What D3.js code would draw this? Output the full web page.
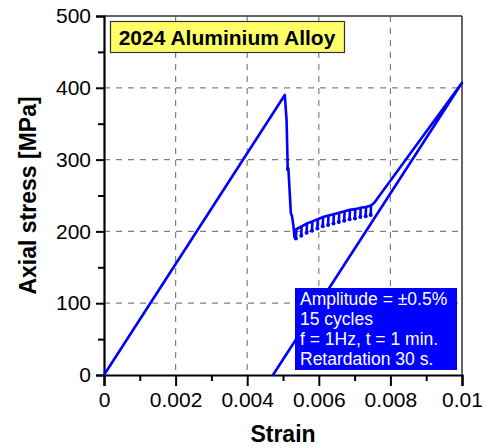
<!DOCTYPE html>
<html>
<head>
<meta charset="utf-8">
<script src="https://cdn.jsdelivr.net/npm/d3@7"></script>
<style>
  body { margin: 0; background: #fff; }
  svg { display: block; font-family: "Liberation Sans", Arial, sans-serif; }
</style>
</head>
<body>
<svg width="488" height="448"></svg>
<script>
// loading path before the cycles (strain, stress MPa)
const loadStrain = [0, 0.00505, 0.00510, 0.00513, 0.00512, 0.00515, 0.00522, 0.00525, 0.00529, 0.00532];
const loadStress = [0, 390, 355, 292, 286, 288, 225, 222, 208, 192];

// 15 relaxation cycles: peak and hook bottom
const cycleStrain = [0.00537, 0.00552, 0.00567, 0.00582, 0.00597, 0.00612, 0.00627, 0.00642,
                     0.00657, 0.00672, 0.00687, 0.00702, 0.00717, 0.00732, 0.00746];
const cyclePeak   = [203, 207, 211, 214, 217, 220, 222, 224, 226, 228, 230, 231, 233, 234, 236];
const cycleValley = [190, 194, 198, 201, 204, 207, 209, 211, 213, 215, 217, 218, 220, 221, 223];

// reloading and unloading
const endStrain = [0.00755, 0.0100, 0.00472];
const endStress = [240, 407, 0];

const xTicks = [0, 0.002, 0.004, 0.006, 0.008, 0.01];
const yTicks = [0, 100, 200, 300, 400, 500];

const infoLines = ["Amplitude = \u00b10.5%", "15 cycles", "f = 1Hz, t = 1 min.", "Retardation 30 s."];

const svg = d3.select("svg");
const pL = 104, pR = 462, pT = 16, pB = 375;

const x = d3.scaleLinear().domain([0, 0.01]).range([pL, pR]);
const y = d3.scaleLinear().domain([0, 500]).range([pB, pT]);

// grid
svg.append("g").selectAll("line")
  .data(xTicks.slice(1, -1))
  .join("line")
  .attr("x1", d => x(d)).attr("x2", d => x(d))
  .attr("y1", pT).attr("y2", pB)
  .attr("stroke", "#808080").attr("stroke-width", 1.2).attr("stroke-dasharray", "6,6");
svg.append("g").selectAll("line")
  .data(yTicks.slice(1, -1))
  .join("line")
  .attr("y1", d => y(d)).attr("y2", d => y(d))
  .attr("x1", pL).attr("x2", pR)
  .attr("stroke", "#808080").attr("stroke-width", 1.2).attr("stroke-dasharray", "6,6");

// frame
svg.append("line").attr("x1", pL).attr("x2", pR).attr("y1", pT).attr("y2", pT)
  .attr("stroke", "#333").attr("stroke-width", 1.5);
svg.append("line").attr("x1", pR).attr("x2", pR).attr("y1", pT).attr("y2", pB)
  .attr("stroke", "#333").attr("stroke-width", 1.5);

// axes
svg.append("g").attr("transform", `translate(0,${pB})`)
  .call(d3.axisBottom(x).tickValues(xTicks).tickFormat(d => d === 0 ? "0" : String(+d.toFixed(3)))
    .tickSize(11).tickPadding(6));
svg.append("g").attr("transform", `translate(${pL},0)`)
  .call(d3.axisLeft(y).tickValues(yTicks).tickSize(8).tickPadding(5));

svg.append("g").attr("transform", `translate(0,${pB})`)
  .call(d3.axisBottom(x).tickValues(d3.range(0.001, 0.01, 0.002)).tickSize(6).tickFormat(""))
  .call(g => g.select(".domain").remove());
svg.append("g").attr("transform", `translate(${pL},0)`)
  .call(d3.axisLeft(y).tickValues(d3.range(50, 500, 100)).tickSize(6).tickFormat(""))
  .call(g => g.select(".domain").remove());

svg.selectAll(".domain").attr("stroke", "#000").attr("stroke-width", 2.2);
svg.selectAll(".tick line").attr("stroke", "#000").attr("stroke-width", 2);
svg.selectAll(".tick text").attr("font-size", 21).attr("fill", "#000")
  .attr("font-family", "Liberation Sans, Arial, sans-serif");

// axis titles
svg.append("text").attr("x", (pL + pR) / 2).attr("y", 442)
  .attr("text-anchor", "middle").attr("font-size", 23).attr("font-weight", "bold")
  .text("Strain");
svg.append("text").attr("transform", `translate(36,${(pT + pB) / 2}) rotate(-90)`)
  .attr("text-anchor", "middle").attr("font-size", 23).attr("font-weight", "bold")
  .text("Axial stress [MPa]");

// curve
const pts = [];
loadStrain.forEach((s, i) => pts.push([s, loadStress[i]]));
cycleStrain.forEach((s, i) => {
  pts.push([s, cyclePeak[i]]);
  pts.push([s - 0.00001, cycleValley[i]]);
  pts.push([s, cyclePeak[i]]);
});
endStrain.forEach((s, i) => pts.push([s, endStress[i]]));

svg.append("path")
  .datum(pts)
  .attr("d", d3.line().x(d => x(d[0])).y(d => y(d[1])))
  .attr("fill", "none").attr("stroke", "#0000ff").attr("stroke-width", 2.6)
  .attr("stroke-linejoin", "round").attr("stroke-linecap", "round");

// hook ends
svg.append("g").selectAll("circle")
  .data(cycleStrain)
  .join("circle")
  .attr("cx", d => x(d - 0.00001)).attr("cy", (d, i) => y(cycleValley[i]))
  .attr("r", 2).attr("fill", "#0000ff");

// title box
const tb = svg.append("g");
tb.append("rect").attr("x", 110.5).attr("y", 21.5).attr("width", 234).attr("height", 31)
  .attr("fill", "#ffff66").attr("stroke", "#333").attr("stroke-width", 1.2);
tb.append("text").attr("x", 227).attr("y", 45).attr("text-anchor", "middle")
  .attr("font-size", 21).attr("font-weight", "bold").text("2024 Aluminium Alloy");

// info box
const ib = svg.append("g");
ib.append("rect").attr("x", 295).attr("y", 288).attr("width", 162).attr("height", 82)
  .attr("fill", "#0000ff");
ib.selectAll("text").data(infoLines).join("text")
  .attr("x", 300).attr("y", (d, i) => 305 + i * 20)
  .attr("font-size", 17.5).attr("fill", "#fff").text(d => d);
</script>
</body>
</html>
